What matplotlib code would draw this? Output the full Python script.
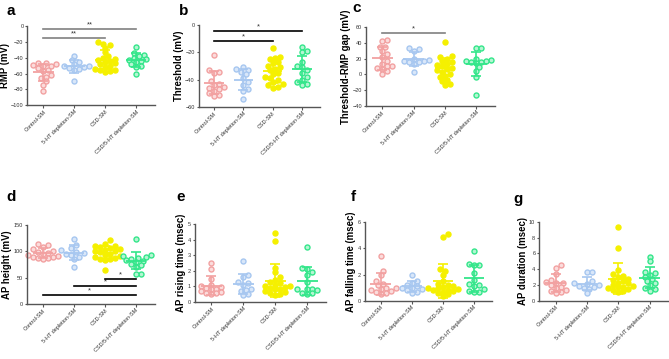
import numpy as np
import matplotlib
matplotlib.use("Agg")
import matplotlib.pyplot as plt

plt.rcParams['font.family'] = ['Liberation Sans', 'DejaVu Sans']

groups = ['Control-SM', '5-HT depletion-SM', 'CSD-SM', 'CSD/5-HT depletion-SM']
colors = ['#f2a1a1', '#a7c7f0', '#f5f000', '#33e68a']
faces = ['#fbdcdc', '#d9e7f9', '#f5f000', '#b5f5d3']

# a: RMP (mV)
rmp_ctrl = [-46, -47, -48, -49, -50, -51, -53, -55, -57, -62, -64, -66, -70, -75, -82]
rmp_5ht = [-38, -43, -45, -48, -50, -51, -52, -53, -54, -55, -70]
rmp_csd = [-20, -22, -24, -27, -33, -38, -40, -41, -43, -44, -45, -47, -48, -50, -52, -54, -55, -56, -57, -58]
rmp_dbl = [-26, -34, -36, -38, -40, -42, -43, -44, -45, -48, -50, -52, -60]

# b: Threshold (mV)
thr_ctrl = [-22, -33, -34, -35, -41, -43, -44, -45, -46, -47, -48, -50, -51, -52]
thr_5ht = [-31, -32, -33, -34, -36, -39, -42, -44, -47, -48, -54]
thr_csd = [-17, -23, -24, -25, -27, -28, -30, -31, -32, -33, -35, -36, -38, -39, -40, -42, -43, -44, -45, -46]
thr_dbl = [-16, -19, -20, -27, -30, -31, -33, -35, -38, -40, -42, -43, -44]

# c: Threshold-RMP gap (mV)
gap_ctrl = [44, 42, 35, 35, 30, 26, 22, 17, 13, 10, 10, 8, 7, 4, 0]
gap_5ht = [33, 32, 29, 20, 18, 17, 17, 16, 15, 13, 3]
gap_csd = [41, 23, 22, 20, 17, 15, 13, 12, 10, 8, 7, 5, 3, 1, -2, -4, -7, -9, -12, -14]
gap_dbl = [33, 33, 20, 18, 17, 17, 16, 15, 14, 9, 4, -3, -26]

# d: AP height (mV)
hgt_ctrl = [114, 112, 108, 104, 100, 99, 97, 96, 94, 92, 90, 89, 88, 87, 86]
hgt_5ht = [123, 112, 106, 102, 99, 97, 96, 94, 90, 86, 71]
hgt_csd = [121, 114, 111, 110, 108, 106, 104, 103, 101, 100, 98, 96, 94, 92, 90, 88, 86, 85, 84, 65]
hgt_dbl = [123, 93, 92, 90, 88, 86, 84, 82, 80, 77, 74, 70, 58, 57]

# e: AP rising time (msec)
rise_ctrl = [2.5, 2.1, 1.5, 1.1, 1.0, 0.95, 0.9, 0.85, 0.8, 0.7, 0.65, 0.6, 0.55, 0.5]
rise_5ht = [2.6, 1.75, 1.6, 1.3, 1.2, 1.1, 0.85, 0.75, 0.7, 0.5, 0.45]
rise_csd = [4.45, 3.9, 2.2, 1.9, 1.6, 1.4, 1.25, 1.2, 1.1, 1.05, 1.0, 0.95, 0.9, 0.85, 0.8, 0.7, 0.65, 0.55, 0.5, 0.45]
rise_dbl = [3.5, 2.2, 2.1, 1.95, 1.75, 1.3, 0.85, 0.8, 0.8, 0.75, 0.6, 0.55, 0.5]

# f: AP falling time (msec)
fall_ctrl = [3.4, 2.3, 2.0, 1.5, 1.3, 1.2, 1.0, 0.95, 0.9, 0.8, 0.75, 0.7, 0.6, 0.5]
fall_5ht = [2.0, 1.5, 1.35, 1.2, 1.1, 1.0, 0.95, 0.9, 0.8, 0.7, 0.6]
fall_csd = [5.1, 4.85, 2.4, 2.3, 2.0, 1.5, 1.3, 1.2, 1.1, 1.05, 1.0, 0.95, 0.9, 0.85, 0.8, 0.75, 0.7, 0.6, 0.5, 0.35]
fall_dbl = [3.8, 2.8, 2.75, 2.7, 2.1, 1.6, 1.3, 1.2, 1.1, 0.9, 0.75, 0.7, 0.65]

# g: AP duration (msec)
dur_ctrl = [4.5, 4.2, 3.4, 2.6, 2.4, 2.3, 2.2, 2.0, 1.8, 1.6, 1.4, 1.2, 1.1, 1.0]
dur_5ht = [3.6, 3.6, 2.5, 2.2, 2.1, 2.0, 1.9, 1.8, 1.6, 1.5, 1.0]
dur_csd = [9.3, 6.7, 3.9, 3.4, 3.2, 3.0, 2.8, 2.6, 2.5, 2.3, 2.2, 2.0, 1.9, 1.8, 1.7, 1.6, 1.5, 1.4, 1.2, 1.1]
dur_dbl = [5.6, 5.0, 3.6, 3.5, 3.3, 3.0, 2.8, 2.5, 2.3, 2.0, 1.6, 1.5, 1.2]

panels = [
    # letter, ylabel, data, ylim, yticks, significance (i, j, label, y, color), rect
    ('a', 'RMP (mV)', [rmp_ctrl, rmp_5ht, rmp_csd, rmp_dbl], (-100, 0), range(-100, 1, 20),
     [(0, 2, '**', -15, '#808080'), (0, 3, '**', -3, '#808080')], [0.041, 0.707, 0.190, 0.220]),
    ('b', 'Threshold (mV)', [thr_ctrl, thr_5ht, thr_csd, thr_dbl], (-60, 0), range(-60, 1, 20),
     [(0, 2, '*', -11.5, 'black'), (0, 3, '*', -4, 'black')], [0.297, 0.702, 0.181, 0.228]),
    ('c', 'Threshold-RMP gap (mV)', [gap_ctrl, gap_5ht, gap_csd, gap_dbl], (-40, 60), range(-40, 61, 20),
     [(0, 2, '*', 52, '#808080')], [0.547, 0.705, 0.193, 0.220]),
    ('d', 'AP height (mV)', [hgt_ctrl, hgt_5ht, hgt_csd, hgt_dbl], (0, 150), range(0, 151, 50),
     [(2, 3, '*', 47.5, 'black'), (1, 3, '*', 34, 'black'), (0, 3, '*', 18, 'black')], [0.040, 0.153, 0.191, 0.220]),
    ('e', 'AP rising time (msec)', [rise_ctrl, rise_5ht, rise_csd, rise_dbl], (0, 5), range(0, 6),
     [], [0.291, 0.159, 0.197, 0.217]),
    ('f', 'AP falling time (msec)', [fall_ctrl, fall_5ht, fall_csd, fall_dbl], (0, 6), range(0, 7, 2),
     [], [0.545, 0.162, 0.191, 0.220]),
    ('g', 'AP duration (msec)', [dur_ctrl, dur_5ht, dur_csd, dur_dbl], (0, 10), range(0, 11, 2),
     [], [0.806, 0.162, 0.193, 0.220]),
]

letter_pos = {'a': (0.010, 0.99), 'b': (0.268, 0.99), 'c': (0.527, 0.998),
              'd': (0.010, 0.47), 'e': (0.263, 0.47), 'f': (0.524, 0.47), 'g': (0.768, 0.465)}

FIG_W, FIG_H = 669, 359
XLIM = (-0.52, 3.6)


def swarm(vals, px_x, px_y, d=5.0):
    # simple beeswarm: offsets in pixel space, returned in data units
    ys = np.asarray(vals, float) * px_y
    xs = np.zeros(len(ys))
    placed = []
    for i in np.argsort(ys):
        for k in range(40):
            cands = [0.0] if k == 0 else [k * d * 0.5, -k * d * 0.5]
            ok = None
            for cx in cands:
                if all((cx - px) ** 2 + (ys[i] - py) ** 2 >= (d * 0.9) ** 2 for px, py in placed):
                    ok = cx
                    break
            if ok is not None:
                xs[i] = ok
                placed.append((ok, ys[i]))
                break
    return xs / px_x


fig = plt.figure(figsize=(FIG_W / 100, FIG_H / 100), dpi=100)

for letter, ylabel, data, ylim, yticks, sig, rect in panels:
    ax = fig.add_axes(rect)
    px_x = rect[2] * FIG_W / (XLIM[1] - XLIM[0])
    px_y = rect[3] * FIG_H / (ylim[1] - ylim[0])
    for i, vals in enumerate(data):
        dx = swarm(vals, px_x, px_y)
        ax.plot(i + dx, vals, 'o', ms=3.6, mfc=faces[i], mec=colors[i], mew=1.0,
                ls='none', zorder=2, clip_on=False)
        m, s = np.mean(vals), np.std(vals, ddof=1)
        ax.errorbar(i, m, yerr=s, color=colors[i], capsize=3.5, elinewidth=1.2,
                    capthick=1.2, zorder=3)
        ax.hlines(m, i - 0.33, i + 0.33, color=colors[i], lw=1.3, zorder=3)
    for a, b, lab, y, c in sig:
        ax.plot([a, b], [y, y], color=c, lw=1.2, zorder=4, clip_on=False)
        ax.text((a + b) / 2, y + (ylim[1] - ylim[0]) * 0.005, lab, ha='center', va='bottom',
                fontsize=5.5, color='#333333')
    ax.set_xlim(*XLIM)
    ax.set_ylim(*ylim)
    ax.set_yticks(list(yticks))
    ax.set_xticks(range(4))
    ax.set_xticklabels(groups, rotation=45, ha='right', rotation_mode='anchor')
    ax.tick_params(axis='both', labelsize=4.0, length=1.8, width=0.8, pad=1.0,
                   colors='#555555', labelcolor='#333333')
    for sp in ['top', 'right']:
        ax.spines[sp].set_visible(False)
    for sp in ['left', 'bottom']:
        ax.spines[sp].set_color('#555555')
        ax.spines[sp].set_linewidth(1.0)
    ax.set_ylabel(ylabel, fontsize=6.9, fontweight='bold', labelpad=0.8)
    lx, ly = letter_pos[letter]
    fig.text(lx, ly, letter, fontsize=11, fontweight='bold', va='top', ha='left')

fig.savefig('out.png', dpi=100)
